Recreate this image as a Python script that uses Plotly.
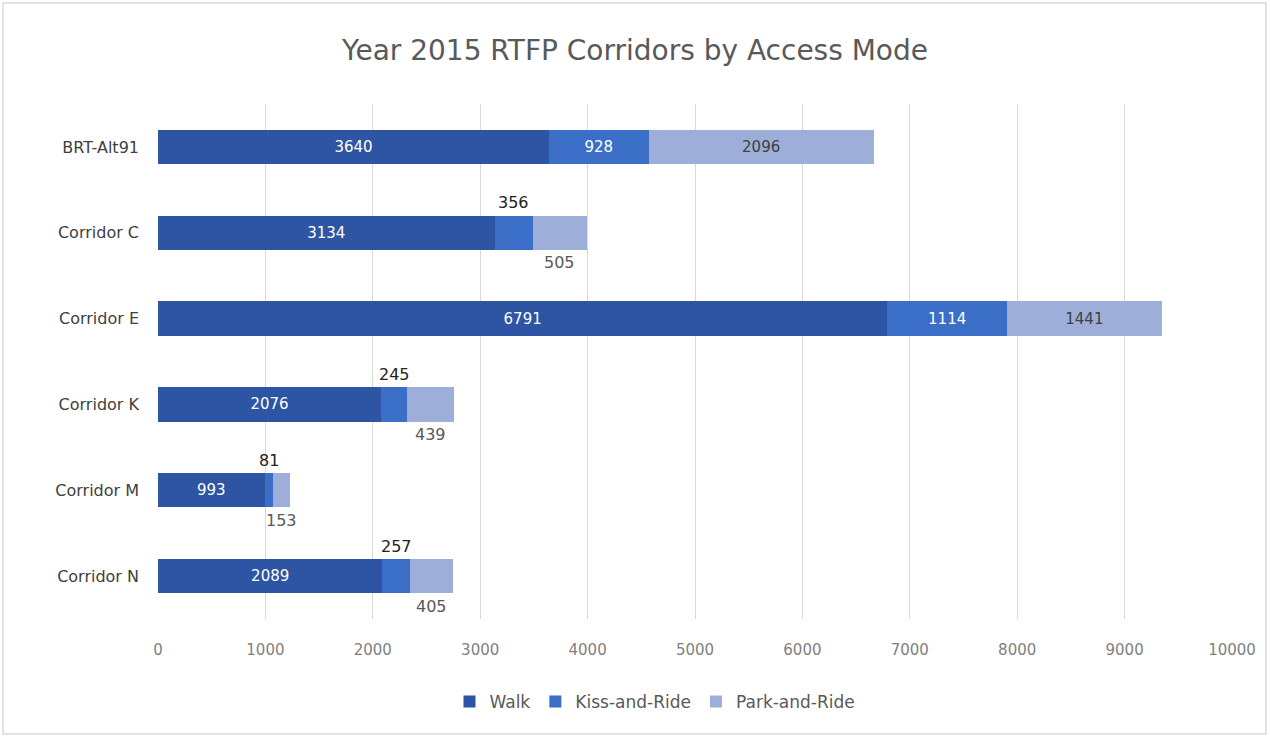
import plotly.graph_objects as go

categories = ["BRT-Alt91", "Corridor C", "Corridor E", "Corridor K", "Corridor M", "Corridor N"]
walk = [3640, 3134, 6791, 2076, 993, 2089]
kiss = [928, 356, 1114, 245, 81, 257]
park = [2096, 505, 1441, 439, 153, 405]
x_ticks = [0, 1000, 2000, 3000, 4000, 5000, 6000, 7000, 8000, 9000, 10000]

# which categories have their kiss/park labels drawn outside the bar
outside = [False, True, False, True, True, True]

W, H = 1270, 737
L, R, T, B = 158, 38, 104, 118
FONT = "DejaVu Sans"

c_walk = "#2E55A3"
c_kiss = "#3B6FC7"
c_park = "#9DAED9"

fig = go.Figure()

def inside_text(vals, show):
    return [str(v) if s else "" for v, s in zip(vals, show)]

fig.add_trace(go.Bar(
    y=categories, x=walk, name="Walk", orientation="h",
    marker=dict(color=c_walk, line=dict(width=0)),
    text=[str(v) for v in walk], textposition="inside", insidetextanchor="middle",
    textfont=dict(color="white", size=15, family=FONT),
))
fig.add_trace(go.Bar(
    y=categories, x=kiss, name="Kiss-and-Ride", orientation="h",
    marker=dict(color=c_kiss, line=dict(width=0)),
    text=inside_text(kiss, [not o for o in outside]), textposition="inside", insidetextanchor="middle",
    textfont=dict(color="white", size=15, family=FONT),
))
fig.add_trace(go.Bar(
    y=categories, x=park, name="Park-and-Ride", orientation="h",
    marker=dict(color=c_park, line=dict(width=0)),
    text=inside_text(park, [not o for o in outside]), textposition="inside", insidetextanchor="middle",
    textfont=dict(color="#404040", size=15, family=FONT),
))

annotations = []
for cat, w, k, p, o in zip(categories, walk, kiss, park, outside):
    if not o:
        continue
    annotations.append(dict(
        x=w + k / 2, y=cat, xref="x", yref="y", text=str(k), showarrow=False,
        yshift=30, font=dict(size=16, color="#222222", family=FONT),
    ))
    annotations.append(dict(
        x=w + k + p / 2, y=cat, xref="x", yref="y", text=str(p), showarrow=False,
        yshift=-30, font=dict(size=16, color="#595959", family=FONT),
    ))

fig.update_layout(
    width=W, height=H,
    margin=dict(l=L, r=R, t=T, b=B),
    barmode="stack",
    bargap=0.6,
    paper_bgcolor="white",
    plot_bgcolor="white",
    title=dict(text="Year 2015 RTFP Corridors by Access Mode", x=0.5, xanchor="center",
               y=1 - 50 / H, yanchor="middle",
               font=dict(size=28, color="#595959", family=FONT)),
    font=dict(family=FONT, color="#595959"),
    xaxis=dict(range=[0, 10000], tickvals=x_ticks, ticktext=[str(v) for v in x_ticks],
               showgrid=True, gridcolor="#D9D9D9", gridwidth=1, zeroline=False,
               showline=False, ticks="", ticklabelstandoff=20,
               tickfont=dict(size=15, color="#7F7F7F", family=FONT)),
    yaxis=dict(autorange="reversed", showgrid=False, showline=False, ticks="",
               ticklabelstandoff=18, tickfont=dict(size=16, color="#404040", family=FONT)),
    legend=dict(orientation="h", x=(655 - L) / (W - L - R), xref="paper", xanchor="center",
                y=-(702 - (H - B)) / (H - T - B), yanchor="middle",
                font=dict(size=17, color="#595959", family=FONT), traceorder="normal",
                itemwidth=30),
    annotations=annotations,
    shapes=[dict(type="rect", xref="paper", yref="paper",
                 x0=(3 - L) / (W - L - R), x1=(W - 4 - L) / (W - L - R),
                 y0=((H - B) - (H - 3)) / (H - T - B), y1=((H - B) - 3) / (H - T - B),
                 line=dict(color="#D9D9D9", width=1.5), fillcolor="rgba(0,0,0,0)")],
)

fig.write_html("out.html")
